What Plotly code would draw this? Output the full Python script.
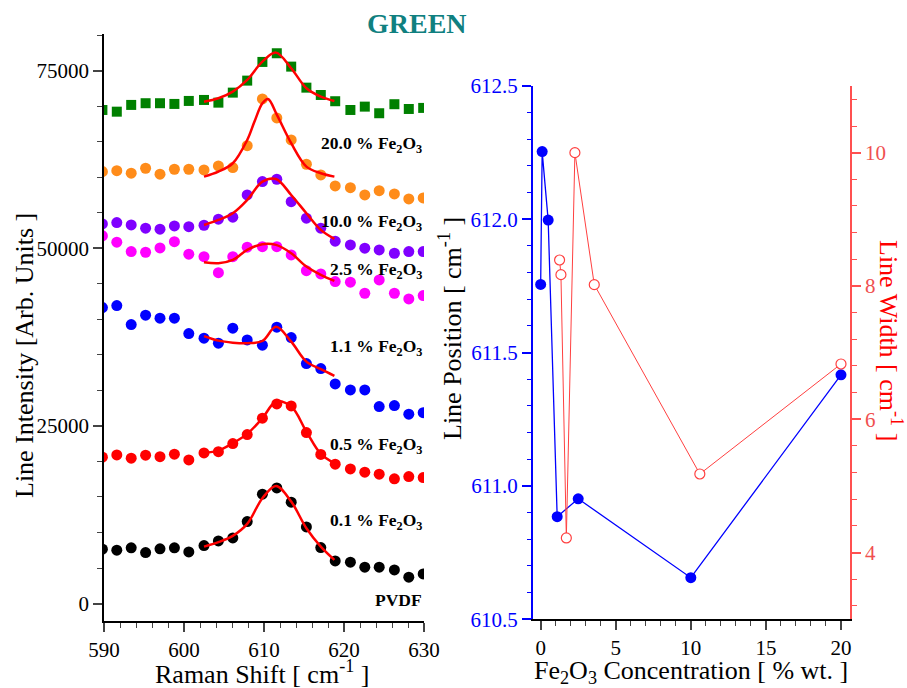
import plotly.graph_objects as go

# ---------------- data: left panel (Raman spectra) ----------------
raman_shift = [589.8, 591.6, 593.4, 595.2, 597.0, 598.8, 600.6, 602.5, 604.3, 606.1, 607.9, 609.8,
               611.6, 613.4, 615.3, 617.1, 618.9, 620.8, 622.6, 624.4, 626.3, 628.1, 629.9]

int_pvdf = [7650, 7510, 7840, 7180, 7700, 7840, 7270, 8160, 8820, 9240, 11540, 15390,
            16280, 14270, 10790, 7880, 6010, 5830, 5120, 5120, 4740, 3710, 4180]
int_01 = [20600, 20920, 20460, 20880, 20680, 21020, 20220, 21200, 21370, 22510, 23780, 26090,
          28100, 27820, 24060, 20990, 19610, 18950, 18490, 18210, 17550, 17870, 17730]
int_05 = [41650, 41930, 39260, 40580, 40160, 40160, 37990, 37340, 36640, 38750, 37100, 36360,
          38890, 37430, 33770, 33070, 30910, 30070, 30070, 27720, 27860, 26650, 26870]
int_11 = [51740, 50850, 49530, 49440, 50050, 50930, 49160, 48820, 46570, 48820, 50150, 50230,
          50230, 49060, 46850, 46390, 45310, 45220, 43670, 45550, 43670, 42870, 43340]
int_25 = [53420, 53610, 53280, 52820, 52680, 53140, 53040, 53240, 54090, 54370, 57500, 59380,
          59710, 56560, 54230, 52820, 51000, 50470, 50010, 49770, 49300, 49530, 49530]
int_10 = [60780, 60920, 60560, 61260, 60420, 61120, 61120, 61020, 61580, 61350, 64440, 71010,
          68340, 65240, 61820, 60320, 58770, 58530, 57500, 58110, 57650, 56940, 57080]
int_20 = [69460, 69220, 70170, 70410, 70410, 70310, 70730, 70870, 70490, 71900, 73590, 76220,
          77440, 75560, 72600, 71570, 70690, 69460, 69930, 69000, 70270, 69600, 69750]

# fitted curves
fit_x_std = [602.5, 604.3, 606.1, 607.9, 609.8, 611.5, 613.4, 615.3, 617.1, 618.8]
fit_pvdf = [8020, 8640, 9530, 11210, 14830, 16550, 14350, 10610, 8020, 6150]
fit_01 = [21250, 21530, 22570, 23880, 26090, 28400, 27720, 24200, 21060, 19750]
fit_05 = [37640, 37000, 36720, 36640, 36950, 38950, 36860, 34050, 32980, 32040]
fit_11 = [48040, 47890, 48360, 49770, 50570, 50470, 49300, 47420, 46250, 45400]
fit_25 = [53280, 53990, 54930, 56800, 59380, 59750, 57500, 54930, 52580, 51310]
fit_x_10 = [602.5, 604.3, 606.1, 607.9, 608.8, 609.8, 610.5, 611.6, 613.4, 615.3, 617.1, 618.8]
fit_10 = [60080, 60780, 61960, 65240, 67800, 70400, 71000, 68800, 64780, 61490, 60560, 60080]
fit_20 = [70630, 71110, 72040, 73690, 76260, 77530, 75330, 72520, 71340, 70730]

series_labels = ["PVDF", "0.1 % Fe<sub>2</sub>O<sub>3</sub>", "0.5 % Fe<sub>2</sub>O<sub>3</sub>",
                 "1.1 % Fe<sub>2</sub>O<sub>3</sub>", "2.5 % Fe<sub>2</sub>O<sub>3</sub>",
                 "10.0 % Fe<sub>2</sub>O<sub>3</sub>", "20.0 % Fe<sub>2</sub>O<sub>3</sub>"]

# ---------------- data: right panel ----------------
conc_pos = [0, 0.1, 0.5, 1.1, 2.5, 10, 20]
line_position = [611.756, 612.254, 611.997, 610.885, 610.952, 610.656, 611.417]
conc_width = [1.26, 1.35, 1.71, 2.28, 3.57, 10.6, 20.0]
line_width = [8.39, 8.17, 4.22, 10.0, 8.02, 5.18, 6.83]

FONT = "Liberation Serif"
W, H = 907, 688


def px(x):
    return x / W


def py(y):
    return 1 - y / H


fig = go.Figure()

spectra = [
    (int_pvdf, "black", "circle", 11, fit_x_std, fit_pvdf),
    (int_01, "#ff0000", "circle", 11, fit_x_std, fit_01),
    (int_05, "#0000ff", "circle", 11, fit_x_std, fit_05),
    (int_11, "#ff00ff", "circle", 11, fit_x_std, fit_11),
    (int_25, "#8000ff", "circle", 11, fit_x_std, fit_25),
    (int_10, "#ff8c1a", "circle", 11, fit_x_10, fit_10),
    (int_20, "#008000", "square", 10, fit_x_std, fit_20),
]

for vals, col, sym, sz, fx, fy in spectra:
    fig.add_trace(go.Scatter(x=raman_shift, y=vals, mode="markers",
                             marker=dict(color=col, symbol=sym, size=sz, line=dict(width=0)),
                             xaxis="x", yaxis="y", showlegend=False))
    fig.add_trace(go.Scatter(x=fx, y=fy, mode="lines",
                             line=dict(color="#ff0000", width=2.5, shape="spline", smoothing=1.0),
                             xaxis="x", yaxis="y", showlegend=False))

fig.add_trace(go.Scatter(x=conc_pos, y=line_position, mode="lines+markers",
                         line=dict(color="#0000ff", width=1.3),
                         marker=dict(color="#0000ff", size=11, line=dict(width=0)),
                         xaxis="x2", yaxis="y2", showlegend=False))
fig.add_trace(go.Scatter(x=conc_width, y=line_width, mode="lines+markers",
                         line=dict(color="#ff4040", width=1),
                         marker=dict(color="white", size=10, symbol="circle",
                                     line=dict(color="#ff4040", width=1.2)),
                         xaxis="x2", yaxis="y3", showlegend=False))

axis_common = dict(showgrid=False, zeroline=False, showline=True, ticks="outside",
                   automargin=False, tickfont=dict(family=FONT, size=21, color="black"))

fig.update_layout(
    width=W, height=H,
    margin=dict(l=0, r=0, t=0, b=0),
    paper_bgcolor="white", plot_bgcolor="white",
    font=dict(family=FONT, color="black"),
    showlegend=False,
    xaxis=dict(domain=[px(104), px(424)], range=[590, 630], dtick=10, tick0=590,
               linecolor="black", linewidth=1.5, ticklen=9, tickwidth=1.5,
               minor=dict(ticks="outside", dtick=2, ticklen=5, tickwidth=1.2),
               anchor="y", **axis_common),
    yaxis=dict(domain=[py(621), py(34)], range=[-2450, 80150], tickvals=[0, 25000, 50000, 75000],
               tickformat="d",
               linecolor="black", linewidth=1.5, ticklen=9, tickwidth=1.5,
               minor=dict(ticks="outside", dtick=5000, ticklen=5, tickwidth=1.2),
               anchor="x", **axis_common),
    xaxis2=dict(domain=[px(532.7), px(850)], range=[-0.53, 20.6], dtick=5, tick0=0,
                linecolor="black", linewidth=1.5, ticklen=9, tickwidth=1.5,
                minor=dict(ticks="outside", dtick=1, ticklen=5, tickwidth=1.2),
                anchor="y2", **axis_common),
)

fig.update_layout(
    yaxis2=dict(domain=[py(619.3), py(86)], range=[610.5, 612.5], dtick=0.5, tick0=610.5,
                tickformat=".1f", showgrid=False, zeroline=False, showline=True,
                ticks="outside", automargin=False,
                linecolor="#0000ff", linewidth=1.5, ticklen=9, tickwidth=1.5, tickcolor="#0000ff",
                minor=dict(ticks="outside", dtick=0.1, ticklen=4, tickwidth=1.2, tickcolor="#0000ff"),
                tickfont=dict(family=FONT, size=21, color="#0000ff"),
                anchor="x2"),
    yaxis3=dict(range=[3, 11], dtick=2, tick0=0, overlaying="y2", side="right", anchor="x2",
                showgrid=False, zeroline=False, showline=True, ticks="outside", automargin=False,
                linecolor="#ff5050", linewidth=1.5, ticklen=9, tickwidth=1.5, tickcolor="#ff5050",
                minor=dict(ticks="outside", dtick=0.4, tick0=0, ticklen=5, tickwidth=1.2,
                           tickcolor="#ff5050"),
                tickfont=dict(family=FONT, size=21, color="#f05050")),
)

annotations = [
    dict(text="<b>GREEN</b>", x=px(417), y=py(24), font=dict(size=28, color="#108080", family=FONT)),
    dict(text="Line Intensity [Arb. Units ]", x=px(24), y=py(356), textangle=-90,
         font=dict(size=26, color="black", family=FONT)),
    dict(text="Raman Shift [ cm<sup>-1</sup> ]", x=px(262), y=py(672),
         font=dict(size=26, color="black", family=FONT)),
    dict(text="Line Position [ cm<sup>-1</sup> ]", x=px(450), y=py(329), textangle=-90,
         font=dict(size=26, color="black", family=FONT)),
    dict(text="Line Width [ cm<sup>-1</sup> ]", x=px(891), y=py(340), textangle=90,
         font=dict(size=26, color="#ff0000", family=FONT)),
    dict(text="Fe<sub>2</sub>O<sub>3</sub> Concentration [ % wt. ]", x=px(691), y=py(672),
         font=dict(size=26, color="black", family=FONT)),
]

label_y = [600, 521, 445, 347, 270, 222, 144]
for lab, yy in zip(series_labels, label_y):
    annotations.append(dict(text="<b>" + lab + "</b>", x=px(424), y=py(yy), xanchor="right",
                            font=dict(size=17.5, color="black", family=FONT)))

for a in annotations:
    a.setdefault("xanchor", "center")
    a.update(xref="paper", yref="paper", showarrow=False, yanchor="middle")

fig.update_layout(annotations=annotations)

fig.write_html("out.html")
